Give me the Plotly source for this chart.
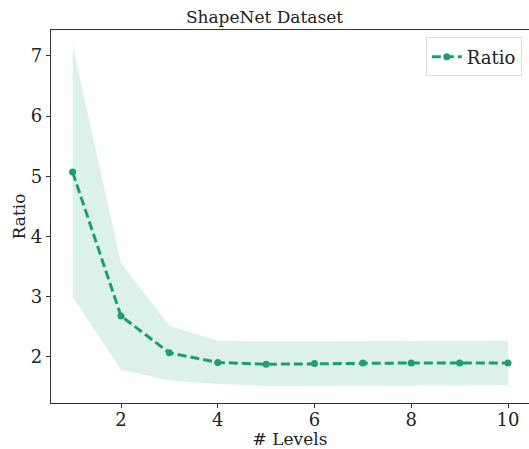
import plotly.graph_objects as go

levels = [1, 2, 3, 4, 5, 6, 7, 8, 9, 10]
ratio_mean = [5.07, 2.68, 2.07, 1.91, 1.88, 1.89, 1.90, 1.90, 1.90, 1.90]
ratio_upper = [7.18, 3.56, 2.52, 2.27, 2.26, 2.26, 2.27, 2.27, 2.27, 2.27]
ratio_lower = [3.00, 1.79, 1.61, 1.55, 1.52, 1.52, 1.53, 1.53, 1.53, 1.53]
x_ticks = [2, 4, 6, 8, 10]
y_ticks = [2, 3, 4, 5, 6, 7]

green = "#1b9e77"
band = "rgba(27,158,119,0.15)"
font = "DejaVu Serif"
ink = "#222222"

fig = go.Figure()
fig.add_trace(go.Scatter(x=levels, y=ratio_lower, mode="lines",
                         line=dict(width=0), showlegend=False, hoverinfo="skip"))
fig.add_trace(go.Scatter(x=levels, y=ratio_upper, mode="lines", fill="tonexty",
                         fillcolor=band, line=dict(width=0),
                         showlegend=False, hoverinfo="skip"))
fig.add_trace(go.Scatter(x=levels, y=ratio_mean, mode="lines+markers", name="Ratio",
                         line=dict(color=green, width=3, dash="9px,4px"),
                         marker=dict(color=green, size=7)))

axis_common = dict(showline=True, linecolor="#333333", linewidth=1.2, mirror=True,
                   ticks="outside", ticklen=4, tickcolor="#333333", showgrid=False,
                   zeroline=False, tickfont=dict(family=font, size=18, color=ink))

fig.update_layout(
    width=529, height=449,
    margin=dict(l=51, r=0, t=30, b=46),
    paper_bgcolor="white", plot_bgcolor="white",
    title=dict(text="ShapeNet Dataset", x=0.5, xanchor="center", y=0.962, yanchor="middle",
               font=dict(family=font, size=17, color=ink)),
    xaxis=dict(range=[0.553, 10.434], tickvals=x_ticks, ticklabelstandoff=-4,
               title=dict(text="# Levels", font=dict(family=font, size=17, color=ink),
                          standoff=0),
               **axis_common),
    yaxis=dict(range=[1.236, 7.43], tickvals=y_ticks,
               title=dict(text="Ratio", font=dict(family=font, size=17, color=ink),
                          standoff=0),
               **axis_common),
    legend=dict(x=0.985, y=0.98, xanchor="right", yanchor="top",
                bgcolor="white", bordercolor="#dddddd", borderwidth=1,
                font=dict(family=font, size=18, color=ink)),
)

fig.write_html("out.html")
